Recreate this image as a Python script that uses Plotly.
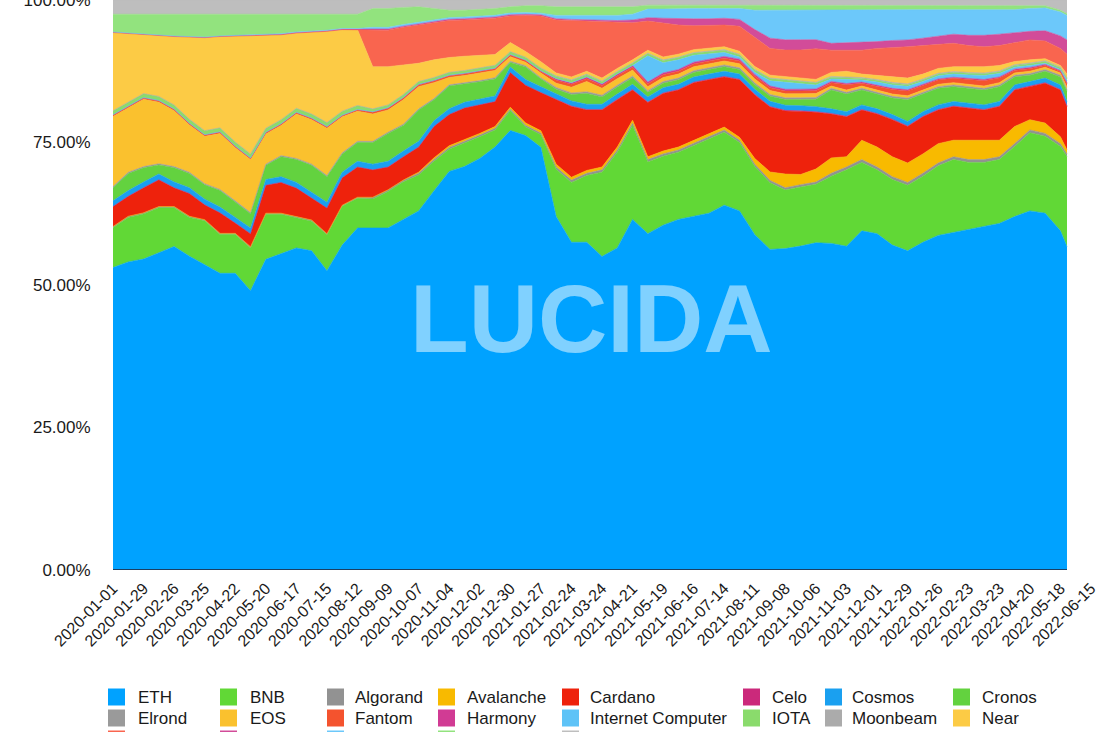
import pandas as pd
import plotly.graph_objects as go

# ---------------- data ----------------
DATES = list(pd.date_range("2020-01-01", periods=63, freq="14D").strftime("%Y-%m-%d")) + ["2022-05-24"]
TICK_DATES = list(pd.date_range("2020-01-01", "2022-06-15", freq="28D").strftime("%Y-%m-%d"))
Y_TICKS = [0, 25, 50, 75, 100]
Y_LABELS = ["0.00%", "25.00%", "50.00%", "75.00%", "100.00%"]

ETH = [53, 54, 54.5, 55.6, 56.7, 55, 53.5, 52, 52, 49, 54.5, 55.5, 56.5, 56, 52.5, 57, 60,
       60, 60, 61.5, 63, 66.5, 70, 71, 72.5, 74.5, 77.5, 76, 74,
       62, 57.5, 57.5, 55, 56.5, 61.5, 59, 60.5, 61.5, 62, 62.6, 64, 63, 59, 56.3, 56.5, 57, 57.7,
       57.3, 56.8, 59.5, 59, 57, 56, 57.5, 58.7, 59.2, 59.7, 60.2, 60.8, 62, 63, 62.6, 59.5, 56.7]
BNB = [7.0, 7.8, 7.9, 7.9, 6.8, 6.8, 7.7, 6.8, 6.8, 7.5, 7.9, 6.9, 5.3, 5.2, 6.3, 6.8, 5.2,
       5.1, 6.4, 6.6, 6.3, 5.2, 3.9, 4.1, 3.8, 3.0, 3.5, 1.5, 2.2,
       8.3, 10.5, 11.7, 14.8, 16.8, 16.5, 12.6, 12.1, 11.8, 12.4, 13.0, 12.8, 12.0, 12.0, 11.7, 10.3, 10.4, 10.3,
       11.8, 13.4, 12.0, 11.2, 11.5, 11.5, 11.6, 12.2, 12.8, 11.8, 11.3, 11.2, 12.3, 13.7, 13.5, 14.8, 15.8]
ALGORAND = [0.2, 0.2, 0.2, 0.2, 0.2, 0.2, 0.2, 0.2, 0.2, 0.2, 0.2, 0.2, 0.2, 0.2, 0.2, 0.2, 0.2,
            0.3, 0.3, 0.3, 0.3, 0.3, 0.3, 0.3, 0.3, 0.3, 0.3, 0.3, 0.3,
            0.4, 0.4, 0.4, 0.4, 0.4, 0.4, 0.4, 0.4, 0.4, 0.4, 0.4, 0.4, 0.4, 0.4, 0.4, 0.4, 0.4, 0.4,
            0.5, 0.5, 0.5, 0.5, 0.5, 0.5, 0.5, 0.5, 0.5, 0.5, 0.5, 0.5, 0.5, 0.5, 0.5, 0.5, 0.5]
AVALANCHE = [0, 0, 0, 0, 0, 0, 0, 0, 0, 0, 0, 0, 0, 0, 0, 0, 0,
             0, 0, 0, 0.2, 0.3, 0.3, 0.3, 0.3, 0.3, 0.3, 0.4, 0.4,
             0.5, 0.5, 0.5, 0.5, 0.5, 0.5, 0.5, 0.5, 0.5, 0.5, 0.5, 0.5, 0.5, 1.0, 1.5, 2.4, 1.8, 2.3,
             2.7, 1.8, 3.4, 3.5, 3.5, 3.4, 3.4, 3.4, 2.9, 3.4, 3.4, 2.9, 3.0, 1.8, 1.8, 1.2, 0.7]
CARDANO = [3.5, 3.5, 4.4, 4.7, 3.3, 4.0, 2.6, 3.6, 1.8, 2.3, 4.9, 5.4, 5.0, 3.9, 4.5, 4.8, 5.3,
           4.8, 4.0, 4.1, 4.4, 5.5, 5.5, 5.6, 5.1, 4.4, 6.1, 6.6, 6.7,
           11.3, 12.4, 10.6, 10.0, 8.3, 5.3, 9.5, 10.1, 10.0, 10.1, 9.5, 8.8, 10.1, 11.2, 11.4, 11.1, 11.1, 10.0,
           7.7, 7.0, 5.3, 5.8, 6.5, 6.4, 6.5, 5.9, 5.9, 5.6, 5.3, 5.9, 6.4, 5.8, 7.0, 8.2, 7.6]
CELO = [0, 0, 0, 0, 0, 0, 0, 0, 0, 0, 0, 0, 0, 0, 0, 0, 0,
        0, 0, 0, 0, 0, 0, 0, 0, 0, 0, 0, 0,
        0.1, 0.1, 0.1, 0.1, 0.1, 0.1, 0.1, 0.1, 0.1, 0.1, 0.1, 0.1, 0.1, 0.1, 0.1, 0.1, 0.1, 0.1,
        0.1, 0.1, 0.1, 0.1, 0.1, 0.1, 0.1, 0.1, 0.1, 0.1, 0.1, 0.1, 0.1, 0.1, 0.1, 0.1, 0.1]
COSMOS = [1.0, 1.0, 1.0, 1.0, 1.0, 1.0, 1.0, 1.0, 1.0, 1.0, 1.0, 1.0, 1.0, 1.0, 1.0, 1.0, 1.0,
          1.0, 1.0, 1.0, 1.0, 1.0, 1.0, 1.0, 1.0, 1.0, 1.0, 1.0, 1.0,
          0.9, 0.9, 0.9, 0.9, 0.9, 0.9, 0.9, 0.9, 0.9, 0.9, 0.9, 0.9, 0.9, 0.9, 0.9, 0.9, 0.9, 0.9,
          0.8, 0.8, 0.8, 0.8, 0.8, 0.8, 0.8, 0.8, 0.8, 0.8, 0.8, 0.8, 0.8, 0.8, 0.8, 0.8, 0.8]
CRONOS = [2.3, 3.0, 2.5, 1.6, 2.5, 2.5, 2.5, 2.9, 2.7, 2.5, 2.5, 3.5, 4.0, 4.7, 4.5, 3.2, 3.3,
          3.8, 4.9, 4.5, 5.5, 3.7, 4.0, 3.2, 3.0, 3.0, 0.8, 2.2, 1.4,
          0.85, 1.1, 1.9, 1.3, 1.25, 1.15, 0.8, 0.8, 0.8, 0.8, 0.8, 0.8, 0.8, 0.8, 0.9, 1.0, 1.1, 1.3,
          3.3, 3.1, 2.6, 2.6, 2.9, 3.8, 3.1, 2.9, 2.6, 2.6, 2.6, 2.6, 1.4, 1.1, 1.2, 1.4, 1.8]
ELROND = [0.2, 0.2, 0.2, 0.2, 0.2, 0.2, 0.2, 0.2, 0.2, 0.2, 0.2, 0.2, 0.2, 0.2, 0.2, 0.2, 0.2,
          0.2, 0.2, 0.2, 0.2, 0.2, 0.2, 0.2, 0.2, 0.2, 0.2, 0.2, 0.2,
          0.3, 0.3, 0.3, 0.3, 0.3, 0.3, 0.3, 0.3, 0.3, 0.3, 0.3, 0.3, 0.3, 0.3, 0.3, 0.3, 0.3, 0.3,
          0.3, 0.3, 0.3, 0.3, 0.3, 0.3, 0.3, 0.3, 0.3, 0.3, 0.3, 0.3, 0.3, 0.3, 0.3, 0.3, 0.3]
EOS = [12.3, 11.3, 11.8, 10.8, 9.8, 8.3, 8.3, 9.8, 9.3, 9.3, 5.3, 5.3, 7.8, 7.8, 8.3, 6.3, 5.3,
       4.8, 3.9, 4.3, 3.9, 2.8, 1.3, 1.3, 1.3, 1.3, 0.8, 0.6, 0.8,
       0.75, 1.0, 1.8, 1.2, 1.15, 1.05, 0.7, 0.7, 0.7, 0.7, 0.7, 0.7, 0.7, 0.7, 0.7, 0.7, 0.7, 0.7,
       0.4, 0.4, 0.4, 0.4, 0.4, 0.4, 0.4, 0.4, 0.4, 0.4, 0.4, 0.4, 0.4, 0.4, 0.4, 0.4, 0.4]
FANTOM = [0.2, 0.2, 0.2, 0.2, 0.2, 0.2, 0.2, 0.2, 0.2, 0.2, 0.2, 0.2, 0.2, 0.2, 0.2, 0.2, 0.2,
          0.3, 0.3, 0.3, 0.3, 0.3, 0.3, 0.3, 0.3, 0.3, 0.3, 0.3, 0.3,
          0.5, 0.5, 0.5, 0.5, 0.5, 0.5, 0.5, 0.5, 0.5, 0.5, 0.5, 0.5, 0.5, 0.5, 0.5, 0.5, 0.5, 0.5,
          0.6, 0.95, 0.5, 0.7, 0.8, 0.85, 0.75, 0.75, 0.75, 0.85, 0.95, 0.8, 0.45, 0.45, 0.3, 0.25, 0.6]
HARMONY = [0.1, 0.1, 0.1, 0.1, 0.1, 0.1, 0.1, 0.1, 0.1, 0.1, 0.1, 0.1, 0.1, 0.1, 0.1, 0.1, 0.1,
           0.1, 0.1, 0.1, 0.1, 0.1, 0.1, 0.1, 0.1, 0.1, 0.1, 0.1, 0.1,
           0.3, 0.3, 0.3, 0.3, 0.3, 0.3, 0.3, 0.3, 0.3, 0.3, 0.3, 0.3, 0.3, 0.3, 0.3, 0.3, 0.3, 0.3,
           0.2, 0.2, 0.2, 0.2, 0.2, 0.2, 0.2, 0.2, 0.2, 0.2, 0.2, 0.2, 0.2, 0.2, 0.2, 0.2, 0.2]
INTERNET_COMPUTER = [0, 0, 0, 0, 0, 0, 0, 0, 0, 0, 0, 0, 0, 0, 0, 0, 0,
                     0, 0, 0, 0, 0, 0, 0, 0, 0, 0, 0, 0,
                     0, 0, 0, 0, 0, 0, 4.6, 1.8, 1.7, 1.2, 0.9, 0.7, 0.4, 0.4, 0.9, 1.2, 1.0, 0.7,
                     0.45, 0.65, 0.35, 0.5, 0.6, 0.6, 0.55, 0.55, 0.55, 0.6, 0.7, 0.6, 0.35, 0.35, 0.2, 0.15, 0.4]
IOTA = [0.7, 0.7, 0.7, 0.7, 0.7, 0.7, 0.7, 0.7, 0.7, 0.7, 0.7, 0.7, 0.7, 0.7, 0.7, 0.7, 0.7,
        0.5, 0.5, 0.5, 0.5, 0.5, 0.5, 0.5, 0.5, 0.5, 0.5, 0.5, 0.5,
        0.4, 0.4, 0.4, 0.4, 0.4, 0.4, 0.4, 0.4, 0.4, 0.4, 0.4, 0.4, 0.4, 0.4, 0.4, 0.4, 0.4, 0.4,
        0.3, 0.3, 0.3, 0.3, 0.3, 0.3, 0.3, 0.3, 0.3, 0.3, 0.3, 0.3, 0.3, 0.3, 0.3, 0.3, 0.3]
MOONBEAM = [0, 0, 0, 0, 0, 0, 0, 0, 0, 0, 0, 0, 0, 0, 0, 0, 0,
            0, 0, 0, 0, 0, 0, 0, 0, 0, 0, 0, 0,
            0.1, 0.1, 0.1, 0.1, 0.1, 0.1, 0.1, 0.1, 0.1, 0.1, 0.1, 0.1, 0.1, 0.1, 0.1, 0.1, 0.1, 0.1,
            0.15, 0.15, 0.15, 0.15, 0.15, 0.15, 0.15, 0.15, 0.15, 0.15, 0.15, 0.15, 0.15, 0.15, 0.15, 0.15, 0.15]
NEAR = [13.7, 12.0, 10.3, 10.6, 12.0, 14.4, 16.3, 16.0, 18.6, 20.8, 16.3, 14.9, 13.2, 14.3, 16.0, 14.3, 13.3,
        7.4, 6.7, 5.2, 3.2, 3.1, 2.6, 2.5, 2.3, 1.9, 1.6, 1.0, 1.1,
        0.5, 0.5, 0.5, 0.5, 0.5, 0.5, 0.5, 0.5, 0.5, 0.5, 0.5, 0.5, 0.5, 0.5, 0.5, 0.5, 0.5, 0.5,
        0.7, 1.05, 0.6, 0.75, 0.95, 1.0, 0.85, 0.85, 0.85, 1.0, 1.1, 0.95, 0.55, 0.55, 0.35, 0.25, 0.65]
POLKADOT = [0, 0, 0, 0, 0, 0, 0, 0, 0, 0, 0, 0, 0, 0, 0, 0, 0,
            6.4, 6.4, 6.6, 6.7, 6.5, 6.5, 6.4, 6.3, 6.4, 4.7, 6.3, 8.0,
            9.3, 9.9, 8.8, 9.9, 8.0, 6.5, 5.1, 6.0, 5.1, 4.2, 4.0, 3.8, 4.4, 5.2, 4.7, 4.7, 4.9, 5.4,
            3.9, 3.7, 4.2, 4.7, 5.1, 5.5, 5.0, 4.2, 4.1, 3.7, 3.5, 3.5, 3.3, 3.5, 3.1, 3.0, 3.5]
POLYGON = [0.1, 0.1, 0.1, 0.1, 0.1, 0.1, 0.1, 0.1, 0.1, 0.1, 0.1, 0.1, 0.1, 0.1, 0.1, 0.1, 0.1,
           0.2, 0.2, 0.2, 0.2, 0.2, 0.2, 0.2, 0.2, 0.2, 0.2, 0.2, 0.2,
           0.2, 0.2, 0.2, 0.3, 0.4, 0.5, 0.6, 0.8, 1.1, 1.2, 1.2, 1.2, 1.2, 1.3, 1.8, 1.8, 1.8, 1.6,
           1.2, 1.3, 1.3, 1.2, 1.3, 1.2, 1.3, 1.5, 1.6, 1.8, 2.0, 2.0, 1.8, 1.5, 1.8, 2.2, 2.5]
SOLANA = [0, 0, 0, 0, 0, 0, 0, 0, 0, 0.1, 0.1, 0.1, 0.1, 0.1, 0.1, 0.1, 0.1,
          0.3, 0.3, 0.3, 0.3, 0.3, 0.3, 0.3, 0.3, 0.3, 0.3, 0.3, 0.3,
          0.6, 0.7, 0.8, 0.8, 0.9, 1.0, 1.5, 1.6, 1.8, 1.8, 1.8, 1.7, 1.9, 3.4, 4.9, 5.2, 5.2, 5.2,
          5.8, 5.8, 5.8, 5.6, 5.4, 5.3, 5.0, 4.6, 4.3, 4.5, 4.5, 4.3, 4.0, 4.0, 4.0, 4.2, 4.3]
TERRA = [3.1, 3.3, 3.5, 3.7, 3.8, 3.9, 4.0, 3.8, 3.7, 3.5, 3.5, 3.4, 3.1, 3.0, 2.8, 2.5, 2.5,
         3.3, 3.3, 3.0, 2.7, 2.0, 1.3, 1.2, 1.2, 1.2, 1.1, 1.2, 1.3,
         1.5, 1.5, 1.5, 1.5, 1.5, 1.3, 0.7, 0.7, 0.6, 0.6, 0.6, 0.6, 0.6, 0.8, 0.8, 0.8, 0.8, 0.8,
         0.8, 0.7, 0.7, 0.7, 0.7, 0.7, 0.7, 0.7, 0.7, 0.7, 0.7, 0.7, 0.7, 0.5, 0.4, 0.3, 0.3]
TEZOS = [2.5, 2.5, 2.5, 2.5, 2.5, 2.5, 2.5, 2.5, 2.5, 2.5, 2.5, 2.5, 2.5, 2.5, 2.5, 2.5, 2.5,
         1.5, 1.5, 1.3, 1.2, 1.5, 1.8, 1.8, 1.7, 1.5, 1.2, 1.0, 1.0,
         1.2, 1.2, 1.2, 1.2, 1.2, 1.2, 0.9, 0.9, 0.9, 0.9, 0.9, 0.9, 0.9, 1.0, 1.0, 1.0, 1.0, 1.0,
         1.0, 1.0, 1.0, 1.0, 1.0, 1.0, 1.0, 1.0, 1.0, 1.0, 1.0, 1.0, 1.0, 1.0, 1.0, 1.8, 2.4]

NAMES = ["ETH", "BNB", "Algorand", "Avalanche", "Cardano", "Celo", "Cosmos", "Cronos",
         "Elrond", "EOS", "Fantom", "Harmony", "Internet Computer", "IOTA", "Moonbeam", "Near",
         "Polkadot", "Polygon", "Solana", "Terra", "Tezos"]
VALUES = [ETH, BNB, ALGORAND, AVALANCHE, CARDANO, CELO, COSMOS, CRONOS,
          ELROND, EOS, FANTOM, HARMONY, INTERNET_COMPUTER, IOTA, MOONBEAM, NEAR,
          POLKADOT, POLYGON, SOLANA, TERRA, TEZOS]

# ---------------- styles ----------------
COLORS = ["#00A2FF", "#61D836", "#929292", "#F8BA00", "#EE220C", "#CB297B", "#1AA0F0", "#63D23F",
          "#9A9A9A", "#FAC12E", "#F4532E", "#D13B94", "#5EC3F7", "#8ADB6C", "#ABABAB", "#FCCB45",
          "#F9654F", "#D24C99", "#6CC8FA", "#92E37E", "#BEBEBE"]
FONT = "Liberation Sans, Arial, Helvetica, sans-serif"
TXT = "#1a1a1a"

for n, v in zip(NAMES, VALUES):
    assert len(v) == len(DATES), (n, len(v))

fig = go.Figure()
for name, vals, col in zip(NAMES, VALUES, COLORS):
    fig.add_trace(go.Scatter(
        x=DATES, y=vals, name=name, mode="lines",
        stackgroup="one", groupnorm="percent",
        line=dict(width=0.6, color=col), fillcolor=col,
        showlegend=False, hoverinfo="skip",
    ))

# plot area geometry (pixels) used for the hand-placed legend
W, H = 1104, 732
ML, MR, MT, MB = 113, 13, 0, 162
PW, PH = W - ML - MR, H - MT - MB


def px_x(px):
    return (px - ML) / PW


def px_y(py):
    return (H - MB - py) / PH


SQ_X = [108, 220, 327, 438, 562, 743, 825, 953]
TX_X = [136, 248, 353, 465, 588, 770, 850, 980]
ROW_Y = [697, 718, 739]
SQ = 17

shapes, annots = [], []
for i, (name, col) in enumerate(zip(NAMES, COLORS)):
    r, c = divmod(i, 8)
    cy = ROW_Y[r]
    shapes.append(dict(type="rect", xref="paper", yref="paper",
                       x0=px_x(SQ_X[c]), x1=px_x(SQ_X[c] + SQ),
                       y0=px_y(cy + SQ / 2), y1=px_y(cy - SQ / 2),
                       fillcolor=col, line=dict(width=0)))
    annots.append(dict(text=name, xref="paper", yref="paper",
                       x=px_x(TX_X[c]), y=px_y(cy), xanchor="left", yanchor="middle",
                       showarrow=False, font=dict(family=FONT, size=17, color=TXT)))

# dark baseline under the stacked areas
shapes.append(dict(type="line", xref="x", yref="y", x0=DATES[0], x1=DATES[-1], y0=0, y1=0,
                   line=dict(color="#1b3f63", width=2), layer="above"))

annots.append(dict(text="<b>LUCIDA</b>", xref="paper", yref="paper",
                   x=px_x(591), y=px_y(318), xanchor="center", yanchor="middle",
                   showarrow=False,
                   font=dict(family=FONT, size=96, color="rgba(255,255,255,0.5)")))

fig.update_layout(
    width=W, height=H,
    margin=dict(l=ML, r=MR, t=MT, b=MB, pad=0, autoexpand=False),
    paper_bgcolor="white", plot_bgcolor="white",
    showlegend=False,
    shapes=shapes, annotations=annots,
    xaxis=dict(type="date", range=["2020-01-01", "2022-06-15"], automargin=False,
               tickvals=TICK_DATES, ticktext=TICK_DATES, tickangle=-45,
               showgrid=False, zeroline=False, showline=False,
               ticks="", ticklabelstandoff=5,
               tickfont=dict(family=FONT, size=16, color=TXT)),
    yaxis=dict(range=[0, 100], automargin=False, tickvals=Y_TICKS, ticktext=Y_LABELS,
               showgrid=False, zeroline=False, showline=False,
               ticks="outside", ticklen=18, tickcolor="rgba(0,0,0,0)",
               ticklabeloverflow="allow",
               tickfont=dict(family=FONT, size=17, color=TXT)),
)

# the page's default 8px body margin would shift the whole figure; remove it
fig.write_html("out.html", config={"displayModeBar": False},
               post_script="document.body.style.margin='0px';")
